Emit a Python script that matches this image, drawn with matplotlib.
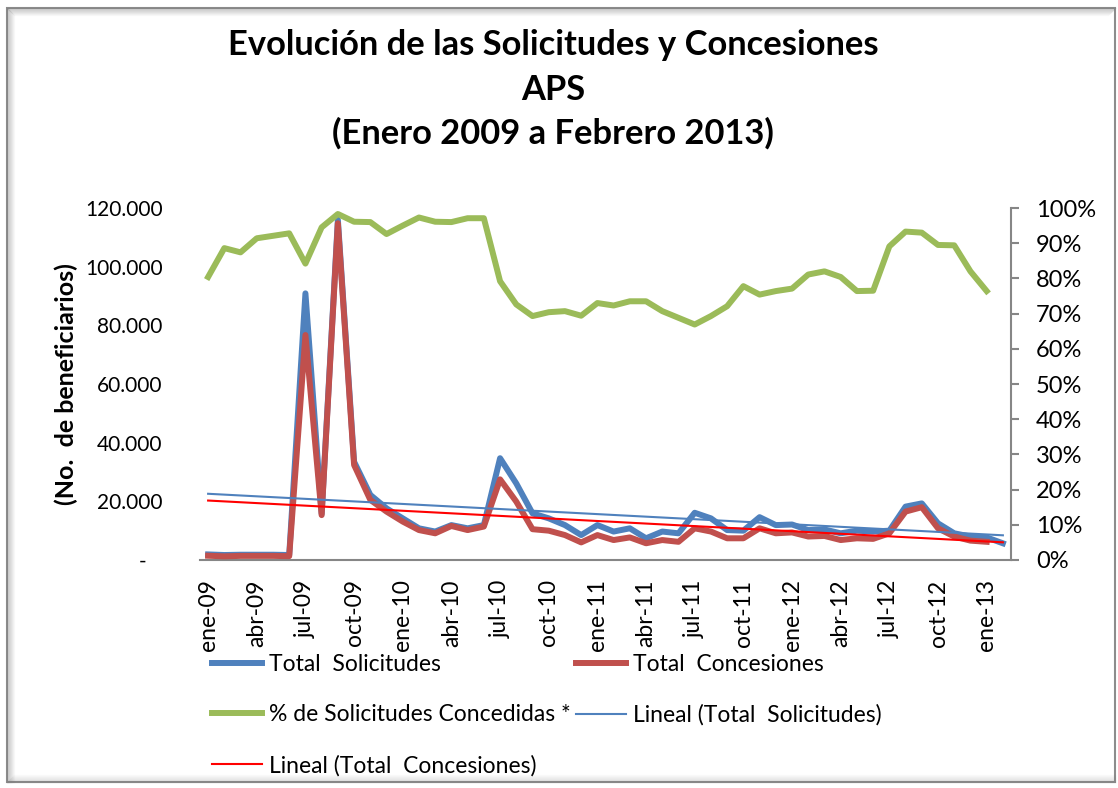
import numpy as np
import matplotlib.pyplot as plt
from matplotlib.ticker import FuncFormatter
from matplotlib.lines import Line2D
from matplotlib.patches import Rectangle

plt.rcParams['font.family'] = ['Lato', 'DejaVu Sans']

# months ene-09 .. feb-13
meses = ["ene", "feb", "mar", "abr", "may", "jun", "jul", "ago", "sep", "oct", "nov", "dic"]
categorias = [f"{meses[m]}-{y:02d}" for y in range(9, 14) for m in range(12)][:50]

solicitudes = [1900, 1700, 1800, 1800, 1800, 1700, 90900, 15800, 116000, 33500,
               22200, 17600, 14200, 10800, 9700, 11900, 10800, 11900, 34700, 26100,
               15900, 14200, 11900, 8500, 11900, 9700, 10800, 7400, 9700, 9100,
               16100, 14200, 10200, 10000, 14600, 11900, 12100, 10200, 10400, 9100,
               10000, 9700, 10000, 18200, 19300, 12500, 9100, 8000, 7700, 5700]

concesiones = [1450, 1250, 1400, 1400, 1400, 1300, 76700, 15300, 114800, 32400,
               20500, 16500, 13100, 10200, 9100, 11600, 10200, 11400, 27500, 19900,
               10500, 10000, 8500, 6000, 8500, 6800, 7700, 5700, 6800, 6200,
               10800, 9700, 7400, 7400, 10800, 9100, 9400, 8000, 8200, 6800,
               7400, 7200, 9100, 16500, 18000, 10800, 8000, 6600, 6200]

pct_concedidas = [80.4, 88.6, 87.4, 91.4, 92.1, 92.8, 84.2, 94.5, 98.3, 96.1,
                  96.0, 92.6, 95.0, 97.3, 96.1, 96.0, 97.1, 97.1, 79.2, 72.6,
                  69.3, 70.4, 70.7, 69.4, 73.0, 72.3, 73.5, 73.5, 70.7, 68.8,
                  66.9, 69.3, 72.1, 77.8, 75.4, 76.4, 77.1, 81.1, 82.0, 80.4,
                  76.4, 76.5, 89.1, 93.3, 93.0, 89.5, 89.4, 82.0, 76.4]

azul = "#4F81BD"
rojo = "#C0504D"
verde = "#9BBB59"

W, H = 1118, 788
fig = plt.figure(figsize=(W / 100, H / 100), dpi=100)

# chart frame with a soft shadow
for k in range(8):
    a = 0.35 * (1 - k / 8)
    fig.add_artist(Line2D([(7 + k) / W, (1115 - k) / W], [1 - (8 + k) / H] * 2,
                          transform=fig.transFigure, color="gray", alpha=a, lw=1))
    fig.add_artist(Line2D([(7 + k) / W] * 2, [1 - (8 + k) / H, 1 - 782 / H],
                          transform=fig.transFigure, color="gray", alpha=a, lw=1))
    fig.add_artist(Line2D([(7 + k) / W, 1115 / W], [1 - (782 - k) / H] * 2,
                          transform=fig.transFigure, color="gray", alpha=a * 0.6, lw=1))
fig.add_artist(Rectangle((7 / W, 1 - 782 / H), 1108 / W, 774 / H, transform=fig.transFigure,
                         fill=False, edgecolor="#8c8c8c", lw=1.5))

ax = fig.add_axes([200 / W, 1 - 560 / H, 811 / W, 352 / H])
ax2 = ax.twinx()

x = np.arange(len(solicitudes))
xc = np.arange(len(concesiones))

ax.plot(x, solicitudes, color=azul, lw=4.3, solid_joinstyle="round", zorder=2)
ax.plot(xc, concesiones, color=rojo, lw=4.3, solid_joinstyle="round", zorder=3)

# linear trend lines (Excel "Lineal")
ps = np.polyfit(x, solicitudes, 1)
pc = np.polyfit(xc, concesiones, 1)
ax.plot(x, np.polyval(ps, x), color=azul, lw=1.5, zorder=4)
ax.plot(x, np.polyval(pc, x), color="#FF0000", lw=1.5, zorder=4)

ax2.plot(xc, pct_concedidas, color=verde, lw=4.3, solid_joinstyle="round")

ax.set_xlim(-0.5, len(solicitudes) - 0.5)
ax.set_ylim(0, 120000)
ax2.set_ylim(0, 100)

ax.set_yticks(np.arange(0, 120001, 20000))
ax.yaxis.set_major_formatter(FuncFormatter(
    lambda v, p: "-   " if v == 0 else f"{int(v):,}".replace(",", ".")))
ax2.set_yticks(np.arange(0, 101, 10))
ax2.yaxis.set_major_formatter(FuncFormatter(lambda v, p: f"{int(v)}%"))

ax.set_xticks(x[::3])
ax.set_xticklabels(categorias[::3], rotation=90)

for a in (ax, ax2):
    for s in ("top", "left", "right"):
        a.spines[s].set_visible(False)
ax2.spines["bottom"].set_visible(False)
ax.spines["bottom"].set_color("#868686")
ax.spines["bottom"].set_linewidth(1.5)
ax2.spines["right"].set_visible(True)
ax2.spines["right"].set_color("#868686")
ax2.spines["right"].set_linewidth(1.5)

ax.tick_params(axis="y", length=0, labelsize=15, pad=27)
ax.tick_params(axis="x", length=0, labelsize=16.5, pad=14)
ax2.tick_params(axis="y", length=6, width=1.5, color="#868686", labelsize=17, pad=12)

ax.set_ylabel("(No.  de beneficiarios)", fontsize=18, fontweight="bold")
ax.yaxis.set_label_coords(-122 / 811, 0.5)

for yy, txt in ((45, "Evolución de las Solicitudes y Concesiones"), (90, "APS"),
                (133, "(Enero 2009 a Febrero 2013)")):
    fig.text(0.495, 1 - yy / H, txt, ha="center", va="center", fontsize=24.8, fontweight="bold")

h_sol = Line2D([], [], color=azul, lw=4.3)
h_con = Line2D([], [], color=rojo, lw=4.3)
h_pct = Line2D([], [], color=verde, lw=4.3)
h_ls = Line2D([], [], color=azul, lw=1.5)
h_lc = Line2D([], [], color="#FF0000", lw=1.5)
fig.legend([h_sol, h_pct, h_lc, h_con, h_ls],
           ["Total  Solicitudes", "% de Solicitudes Concedidas *", "Lineal (Total  Concesiones)",
            "Total  Concesiones", "Lineal (Total  Solicitudes)"],
           ncol=2, loc="upper left", bbox_to_anchor=(212 / W, 1 - 654 / H),
           frameon=False, fontsize=16.5, handlelength=2.2, handletextpad=0.3,
           labelspacing=1.28, columnspacing=0.2, borderaxespad=0, borderpad=0)

fig.savefig("out.png", dpi=100)
